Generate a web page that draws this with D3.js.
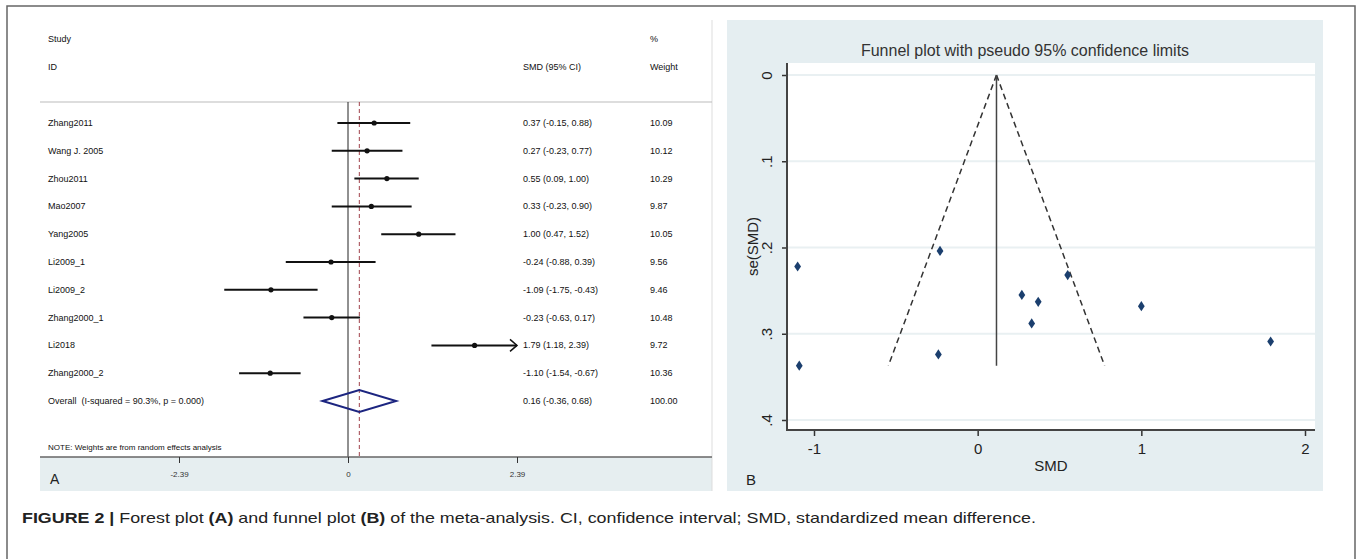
<!DOCTYPE html>
<html>
<head>
<meta charset="utf-8">
<script src="https://cdn.jsdelivr.net/npm/d3@7"></script>
<style>
  body { margin: 0; background: #fff; }
  text { font-family: "Liberation Sans", Arial, sans-serif; }
</style>
</head>
<body>
<div id="chart"></div>
<script>
// study data (forest plot)
const studies = ["Zhang2011", "Wang J. 2005", "Zhou2011", "Mao2007", "Yang2005",
  "Li2009_1", "Li2009_2", "Zhang2000_1", "Li2018", "Zhang2000_2"];
const smd = [0.37, 0.27, 0.55, 0.33, 1.00, -0.24, -1.09, -0.23, 1.79, -1.10];
const ciLow = [-0.15, -0.23, 0.09, -0.23, 0.47, -0.88, -1.75, -0.63, 1.18, -1.54];
const ciHigh = [0.88, 0.77, 1.00, 0.90, 1.52, 0.39, -0.43, 0.17, 2.39, -0.67];
const weights = ["10.09", "10.12", "10.29", "9.87", "10.05", "9.56", "9.46", "10.48", "9.72", "10.36"];
const overallEst = 0.16, overallLow = -0.36, overallHigh = 0.68;
const overallLabel = "Overall  (I-squared = 90.3%, p = 0.000)";
const forestTicks = [-2.39, 0, 2.39];

// funnel plot data (standard errors)
const seSmd = [0.263, 0.255, 0.232, 0.288, 0.268, 0.324, 0.337, 0.204, 0.309, 0.222];
const fixedEst = 0.115;
const funnelSeMax = 0.337;
const funnelXTicks = [-1, 0, 1, 2];
const funnelYTicks = [0, 0.1, 0.2, 0.3, 0.4];

const w = 1357, h = 559;
const svg = d3.select("#chart").append("svg").attr("width", w).attr("height", h);

// outer frame
svg.append("path")
  .attr("d", "M7,559 V6 H1355 V559")
  .attr("fill", "none").attr("stroke", "#666").attr("stroke-width", 1.5);

// ---------- forest plot ----------
const fx = d3.scaleLinear().domain([-2.39, 2.39]).range([179, 517]);
const fy = d3.scalePoint().domain([...studies, "Overall"]).range([123, 401]);
// stata style: plain hyphen for negatives
const fmt = (v) => d3.format(".2f")(v).replace("−", "-");

const forest = svg.append("g");

// bottom axis band
forest.append("rect").attr("x", 40).attr("y", 457).attr("width", 672).attr("height", 34).attr("fill", "#e6eef0");
forest.append("line").attr("x1", 712).attr("x2", 712).attr("y1", 20).attr("y2", 491).attr("stroke", "#ddd");
forest.append("line").attr("x1", 40).attr("x2", 712).attr("y1", 102).attr("y2", 102).attr("stroke", "#bbb");

// headers
const hdr = [["Study", 48, 39], ["ID", 48, 67], ["SMD (95% CI)", 523, 67], ["%", 650, 39], ["Weight", 650, 67]];
forest.selectAll(".hdr").data(hdr).enter().append("text")
  .attr("x", (d) => d[1]).attr("y", (d) => d[2] + 3)
  .attr("font-size", 9).attr("fill", "#111").text((d) => d[0]);

// reference lines
forest.append("line").attr("x1", fx(0)).attr("x2", fx(0)).attr("y1", 102).attr("y2", 457)
  .attr("stroke", "#222").attr("stroke-width", 1);
forest.append("line").attr("x1", fx(overallEst)).attr("x2", fx(overallEst)).attr("y1", 102).attr("y2", 457)
  .attr("stroke", "#a0404a").attr("stroke-width", 1).attr("stroke-dasharray", "4,3");

const rows = forest.selectAll(".row").data(studies).enter().append("g");
rows.append("text").attr("x", 48).attr("y", (d) => fy(d) + 3)
  .attr("font-size", 9).attr("fill", "#111").text((d) => d);
rows.append("line")
  .attr("x1", (d, i) => fx(ciLow[i])).attr("x2", (d, i) => fx(ciHigh[i]))
  .attr("y1", (d) => fy(d)).attr("y2", (d) => fy(d))
  .attr("stroke", "#111").attr("stroke-width", 2);
rows.append("circle")
  .attr("cx", (d, i) => fx(smd[i])).attr("cy", (d) => fy(d)).attr("r", 2.6).attr("fill", "#111");
rows.append("text").attr("x", 523).attr("y", (d) => fy(d) + 3)
  .attr("font-size", 9).attr("fill", "#111")
  .text((d, i) => fmt(smd[i]) + " (" + fmt(ciLow[i]) + ", " + fmt(ciHigh[i]) + ")");
rows.append("text").attr("x", 650).attr("y", (d) => fy(d) + 3)
  .attr("font-size", 9).attr("fill", "#111").text((d, i) => weights[i]);

// arrow for truncated CI (Li2018)
const ai = studies.indexOf("Li2018");
forest.append("path")
  .attr("d", `M${fx(ciHigh[ai]) - 7},${fy("Li2018") - 6} L${fx(ciHigh[ai])},${fy("Li2018")} L${fx(ciHigh[ai]) - 7},${fy("Li2018") + 6}`)
  .attr("fill", "none").attr("stroke", "#111").attr("stroke-width", 1.5);

// overall diamond
const oy = fy("Overall");
forest.append("path")
  .attr("d", `M${fx(overallLow)},${oy} L${fx(overallEst)},${oy - 11} L${fx(overallHigh)},${oy} L${fx(overallEst)},${oy + 11} Z`)
  .attr("fill", "none").attr("stroke", "#1c2580").attr("stroke-width", 2);
forest.append("text").attr("x", 48).attr("y", oy + 3).attr("font-size", 9).attr("fill", "#111")
  .style("white-space", "pre").text(overallLabel);
forest.append("text").attr("x", 523).attr("y", oy + 3).attr("font-size", 9).attr("fill", "#111")
  .text(fmt(overallEst) + " (" + fmt(overallLow) + ", " + fmt(overallHigh) + ")");
forest.append("text").attr("x", 650).attr("y", oy + 3).attr("font-size", 9).attr("fill", "#111").text("100.00");

forest.append("text").attr("x", 48).attr("y", 450).attr("font-size", 8).attr("fill", "#111")
  .text("NOTE: Weights are from random effects analysis");

// forest axis
forest.append("line").attr("x1", 40).attr("x2", 712).attr("y1", 457).attr("y2", 457).attr("stroke", "#666").attr("stroke-width", 1.5);
const fAxis = forest.append("g").attr("transform", "translate(0,457)")
  .call(d3.axisBottom(fx).tickValues(forestTicks).tickSize(6).tickPadding(8).tickFormat((d) => d === 0 ? "0" : fmt(d)));
fAxis.select(".domain").remove();
fAxis.selectAll("line").attr("stroke", "#333");
fAxis.selectAll("text").attr("font-size", 8).attr("fill", "#333").attr("font-family", "Liberation Sans, Arial, sans-serif");
forest.append("text").attr("x", 50).attr("y", 484).attr("font-size", 14).attr("fill", "#222").text("A");

// ---------- funnel plot ----------
const px = d3.scaleLinear().domain([-1, 2]).range([814, 1305]);
const py = d3.scaleLinear().domain([0, 0.4]).range([75, 420]);
const pL = 787, pR = 1315, pT = 63, pB = 430;

const funnel = svg.append("g");
funnel.append("rect").attr("x", 727).attr("y", 20).attr("width", 596).attr("height", 471).attr("fill", "#e5eef1");
funnel.append("rect").attr("x", pL).attr("y", pT).attr("width", pR - pL).attr("height", pB - pT).attr("fill", "#fff");

funnel.append("text").attr("x", 1025).attr("y", 56).attr("text-anchor", "middle")
  .attr("font-size", 16).attr("fill", "#333").text("Funnel plot with pseudo 95% confidence limits");

// gridlines
funnel.selectAll(".grid").data(funnelYTicks).enter().append("line")
  .attr("x1", pL).attr("x2", pR).attr("y1", (d) => py(d)).attr("y2", (d) => py(d))
  .attr("stroke", "#e9f0f2").attr("stroke-width", 2);

// pseudo confidence limits
const funnelLine = d3.line().x((d) => px(d[0])).y((d) => py(d[1]));
const lowerLim = [[fixedEst, 0], [fixedEst - 1.96 * funnelSeMax, funnelSeMax]];
const upperLim = [[fixedEst, 0], [fixedEst + 1.96 * funnelSeMax, funnelSeMax]];
[lowerLim, upperLim].forEach((pts) => {
  funnel.append("path").attr("d", funnelLine(pts))
    .attr("fill", "none").attr("stroke", "#333").attr("stroke-width", 1.5).attr("stroke-dasharray", "6,4");
});
funnel.append("path").attr("d", funnelLine([[fixedEst, 0], [fixedEst, funnelSeMax]]))
  .attr("stroke", "#444").attr("stroke-width", 1.5);

// points
funnel.selectAll(".pt").data(smd).enter().append("path")
  .attr("d", d3.symbol().type(d3.symbolDiamond).size(30))
  .attr("transform", (d, i) => `translate(${px(d)},${py(seSmd[i])}) scale(1.15,1)`)
  .attr("fill", "#1b3f6e");

// axes
const yAx = funnel.append("g").attr("transform", `translate(${pL},0)`)
  .call(d3.axisLeft(py).tickValues(funnelYTicks).tickSize(5)
    .tickFormat((d) => d === 0 ? "0" : d3.format(".1f")(d).replace("0.", ".")));
yAx.select(".domain").remove();
yAx.selectAll("line").attr("stroke", "#333").attr("stroke-width", 1.5);
yAx.selectAll("text").attr("transform", "rotate(-90)").attr("x", 0).attr("y", -15).attr("dy", 0)
  .attr("text-anchor", "middle").attr("font-size", 15).attr("fill", "#222")
  .attr("font-family", "Liberation Sans, Arial, sans-serif");

const xAx = funnel.append("g").attr("transform", `translate(0,${pB})`)
  .call(d3.axisBottom(px).tickValues(funnelXTicks).tickSize(6).tickPadding(7)
    .tickFormat((d) => d3.format("d")(d).replace("−", "-")));
xAx.select(".domain").remove();
xAx.selectAll("line").attr("stroke", "#333").attr("stroke-width", 1.5);
xAx.selectAll("text").attr("font-size", 15).attr("fill", "#222").attr("font-family", "Liberation Sans, Arial, sans-serif");

funnel.append("path").attr("d", `M${pL},${pT} V${pB} H${pR}`)
  .attr("fill", "none").attr("stroke", "#444").attr("stroke-width", 2);

funnel.append("text").attr("x", (pL + pR) / 2).attr("y", 471).attr("text-anchor", "middle")
  .attr("font-size", 15).attr("fill", "#222").text("SMD");
funnel.append("text").attr("transform", `translate(758,${(pT + pB) / 2}) rotate(-90)`)
  .attr("text-anchor", "middle").attr("font-size", 15).attr("fill", "#222").text("se(SMD)");
funnel.append("text").attr("x", 746).attr("y", 485).attr("font-size", 15).attr("fill", "#222").text("B");

// ---------- caption ----------
const cap = svg.append("text").attr("x", 22).attr("y", 523)
  .attr("font-size", 15).attr("fill", "#222")
  .attr("textLength", 1014).attr("lengthAdjust", "spacingAndGlyphs")
  .style("font-family", "'Liberation Sans Narrow', 'Liberation Sans', Arial, sans-serif");
const capParts = [
  ["FIGURE 2 | ", true], ["Forest plot ", false], ["(A)", true], [" and funnel plot ", false], ["(B)", true],
  [" of the meta-analysis. CI, confidence interval; SMD, standardized mean difference.", false]
];
cap.selectAll("tspan").data(capParts).enter().append("tspan")
  .attr("font-weight", (d) => d[1] ? "bold" : "normal")
  .style("white-space", "pre").text((d) => d[0]);
</script>
</body>
</html>
